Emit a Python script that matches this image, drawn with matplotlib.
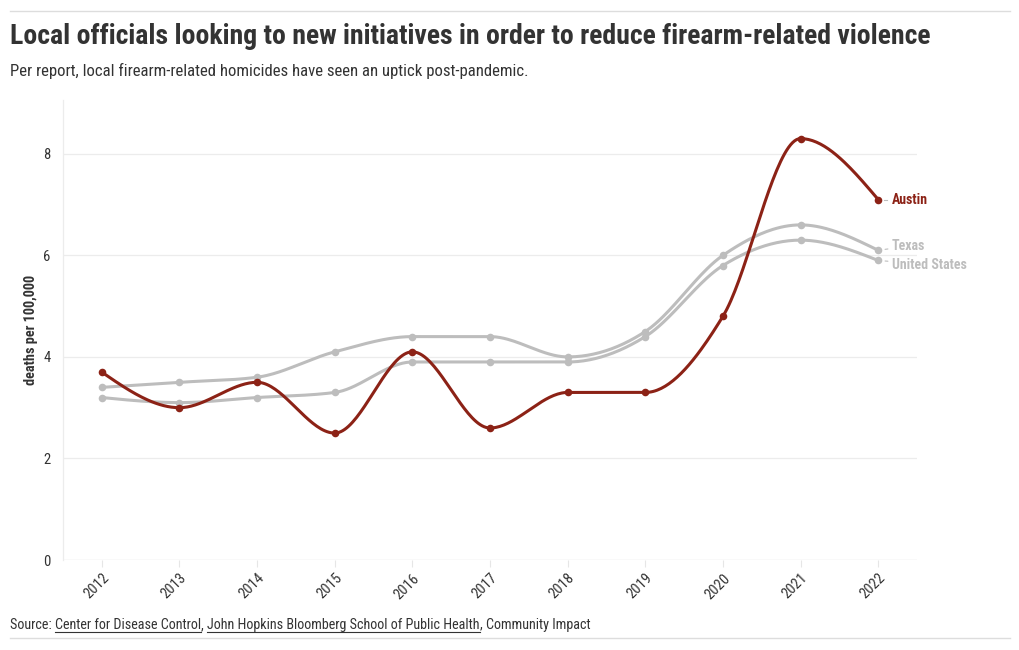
import numpy as np
import matplotlib
matplotlib.use("Agg")
import matplotlib.pyplot as plt
from matplotlib import font_manager

# pick a condensed face if one is around
installed = {f.name for f in font_manager.fontManager.ttflist}
FONT = "Roboto"
for name in ["Roboto Condensed", "Liberation Sans Narrow", "Roboto"]:
    if name in installed:
        FONT = name
        break
plt.rcParams["font.family"] = [FONT, "DejaVu Sans"]

# data
years = [2012, 2013, 2014, 2015, 2016, 2017, 2018, 2019, 2020, 2021, 2022]
austin = [3.7, 3.0, 3.5, 2.5, 4.1, 2.6, 3.3, 3.3, 4.8, 8.3, 7.1]
texas = [3.4, 3.5, 3.6, 4.1, 4.4, 4.4, 4.0, 4.5, 6.0, 6.6, 6.1]
united_states = [3.2, 3.1, 3.2, 3.3, 3.9, 3.9, 3.9, 4.4, 5.8, 6.3, 5.9]
y_ticks = [0, 2, 4, 6, 8]

RED = "#8c2216"
GRAY = "#bdbdbd"
TEXT = "#333333"


def monotone(x, y, n=40):
    # d3-style monotoneX curve
    x = np.asarray(x, float)
    y = np.asarray(y, float)
    h = np.diff(x)
    s = np.diff(y) / h
    t = np.zeros(len(x))
    for i in range(1, len(x) - 1):
        p = (s[i - 1] * h[i] + s[i] * h[i - 1]) / (h[i - 1] + h[i])
        t[i] = (np.sign(s[i - 1]) + np.sign(s[i])) * min(abs(s[i - 1]), abs(s[i]), 0.5 * abs(p))
    t[0] = (3 * s[0] - t[1]) / 2
    t[-1] = (3 * s[-1] - t[-2]) / 2
    xs, ys = [], []
    for i in range(len(x) - 1):
        u = np.linspace(0, 1, n)
        h00 = 2 * u**3 - 3 * u**2 + 1
        h10 = u**3 - 2 * u**2 + u
        h01 = -2 * u**3 + 3 * u**2
        h11 = u**3 - u**2
        xs.append(x[i] + u * h[i])
        ys.append(h00 * y[i] + h10 * h[i] * t[i] + h01 * y[i + 1] + h11 * h[i] * t[i + 1])
    return np.concatenate(xs), np.concatenate(ys)


fig = plt.figure(figsize=(10.2, 6.5), dpi=100)
ax = fig.add_axes([63 / 1020, 90 / 650, (917 - 63) / 1020, 460 / 650])

for vals, col in [(texas, GRAY), (united_states, GRAY), (austin, RED)]:
    cx, cy = monotone(years, vals)
    ax.plot(cx, cy, color=col, lw=2.2, solid_capstyle="round", zorder=3)
    ax.scatter(years, vals, s=30, color=col, zorder=4, linewidths=0)

ax.set_xlim(2011.5, 2022.5)
ax.set_ylim(0, 9.06)
ax.set_xticks(years)
ax.set_xticklabels([str(y) for y in years], rotation=45, ha="right",
                   rotation_mode="anchor", fontsize=10.5, color=TEXT)
ax.set_yticks(y_ticks)
ax.set_yticklabels([str(v) for v in y_ticks], fontsize=10.5, color=TEXT)
ax.tick_params(axis="x", length=5, color="#e6e6e6", pad=3)
ax.tick_params(axis="y", length=0, pad=9)
ax.grid(axis="y", color="#ececec", lw=0.9)
ax.set_axisbelow(True)
for side in ["top", "right", "bottom"]:
    ax.spines[side].set_visible(False)
ax.spines["left"].set_color("#ececec")
ax.spines["left"].set_linewidth(0.9)
ax.axhline(0, color="#ececec", lw=0.9, zorder=1)
ax.set_ylabel("deaths per 100,000", fontsize=10.3, fontweight="bold", color=TEXT, labelpad=4)

# series labels at the right end
ax.annotate("Austin", xy=(2022, austin[-1]), xytext=(10, 0), textcoords="offset points",
            va="center", fontsize=10, fontweight="bold", color=RED, annotation_clip=False)
ax.plot([2022.08, 2022.11], [austin[-1], austin[-1]], color=GRAY, lw=0.8, clip_on=False)
ax.annotate("Texas", xy=(2022, texas[-1]), xytext=(10, 3), textcoords="offset points",
            va="center", fontsize=10, fontweight="bold", color=GRAY, annotation_clip=False,
            arrowprops=dict(arrowstyle="-", color=GRAY, lw=0.8, shrinkA=1, shrinkB=5))
ax.annotate("United States", xy=(2022, united_states[-1]), xytext=(10, -3), textcoords="offset points",
            va="center", fontsize=10, fontweight="bold", color=GRAY, annotation_clip=False,
            arrowprops=dict(arrowstyle="-", color=GRAY, lw=0.8, shrinkA=1, shrinkB=5))

# header and footer
fig.add_artist(plt.Line2D([10 / 1020, 1010 / 1020], [1 - 11 / 650] * 2, color="#dddddd", lw=1))
fig.add_artist(plt.Line2D([10 / 1020, 1010 / 1020], [1 - 638 / 650] * 2, color="#dddddd", lw=1))
fig.text(10 / 1020, 1 - 36 / 650, "Local officials looking to new initiatives in order to reduce firearm-related violence",
         fontsize=20, fontweight="bold", color=TEXT, va="center")
fig.text(10 / 1020, 1 - 71 / 650, "Per report, local firearm-related homicides have seen an uptick post-pandemic.",
         fontsize=12.1, color=TEXT, va="center")

# source line with underlined links
pieces = [("Source: ", False), ("Center for Disease Control", True), (", ", False),
          ("John Hopkins Bloomberg School of Public Health", True), (", Community Impact", False)]
renderer = fig.canvas.get_renderer()
x_px = 10
base = 650 - 629
for txt, link in pieces:
    t = fig.text(x_px / 1020, base / 650, txt, fontsize=10.15, color=TEXT, va="baseline")
    bb = t.get_window_extent(renderer)
    if link:
        y_line = base - 2.5
        fig.add_artist(plt.Line2D([bb.x0 / 1020, bb.x1 / 1020], [y_line / 650] * 2, color=TEXT, lw=0.8))
    x_px = bb.x1

fig.savefig("out.png", dpi=100, facecolor="white")
